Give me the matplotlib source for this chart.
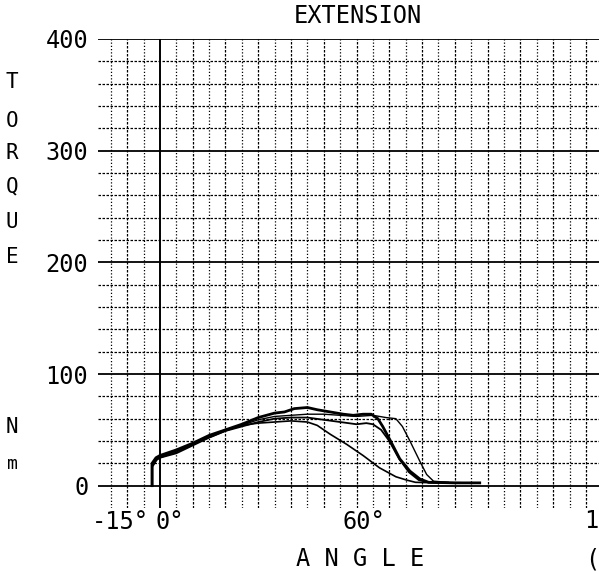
import matplotlib
matplotlib.use('Agg')
import matplotlib.pyplot as plt
import matplotlib.transforms as mtransforms

# torque sweeps (angle in deg, torque in Nm)
ang_a = [-2.5, -2.5, -1.5, 0, 5, 10, 15, 20, 25, 30, 35, 40, 45, 50, 55, 60, 65, 69, 72, 74, 76.3, 79.3, 81.4, 83.5, 88]
trq_a = [0, 18, 23, 25, 30, 37, 43, 49, 54, 59, 62, 63, 64, 64, 63, 62, 63, 61, 60, 53, 40, 22, 10, 4, 3]

ang_b = [-2.4, -2.4, -1.2, 0, 5, 10, 15, 20, 25, 30, 35, 38, 41, 45, 48, 52, 56, 59, 62, 64.5, 66.5, 68, 70.2, 73.2, 76.3, 79.3, 82, 90, 97.6]
trq_b = [0, 20, 25, 27, 32, 38, 45, 50, 55, 61, 65, 66, 69, 70, 68, 66, 64, 63, 64, 64, 60, 53, 41, 24, 13, 6, 3, 2.5, 2.5]

ang_c = [-2.3, -2.3, -1.0, 0, 5, 10, 15, 20, 25, 30, 35, 40, 45, 50, 55, 60, 63, 65, 67.5, 70, 73, 76, 79, 82, 92]
trq_c = [0, 17, 23, 25, 29, 36, 43, 49, 53, 57, 60, 61, 61, 59, 57, 55, 56, 55, 50, 40, 24, 12, 5, 3, 2.5]

ang_d = [-2.5, -2.5, -1.3, 0, 5, 10, 15, 20, 25, 30, 35, 40, 45, 48, 52, 57, 62, 67, 72, 75.3, 78, 85]
trq_d = [0, 19, 24, 26, 31, 37, 44, 50, 54, 56, 57, 58, 57, 54, 46, 37, 27, 16, 8, 5, 3, 2.5]

y_major = [0, 100, 200, 300, 400]
y_minor = [20, 40, 60, 80, 120, 140, 160, 180, 220, 240, 260, 280, 320, 340, 360, 380]
x_grid = list(range(-15, 135, 5))
x_labels = ['-15°', '0°', '60°']
x_label_pos = [-12.2, 3.0, 62.3]

plt.rcParams['font.family'] = ['DejaVu Sans Mono']
fs = 17

fig = plt.figure(figsize=(5.99, 5.74), dpi=100)
ax = fig.add_axes([98 / 599, 66 / 574, 501 / 599, 469 / 574])
ax.set_xlim(-18.9, 134.0)
ax.set_ylim(-20, 400)
for s in ax.spines.values():
    s.set_visible(False)

# grid like the dot matrix printout
for x in x_grid:
    if x == 0:
        ax.axvline(x, color='black', lw=1.4, zorder=1)
    elif x % 10 == 0:
        ax.axvline(x, color='black', lw=0.9, linestyle=(0, (2, 1.2)), zorder=1)
    else:
        ax.axvline(x, color='black', lw=0.9, linestyle=(0, (1, 1.6)), zorder=1)
for y in y_minor:
    ax.axhline(y, color='black', lw=0.9, linestyle=(0, (2, 1.2)), zorder=1)
for y in y_major:
    ax.axhline(y, color='black', lw=1.3, zorder=1)

ax.plot(ang_d, trq_d, color='black', lw=1.2, zorder=3)
ax.plot(ang_c, trq_c, color='black', lw=1.3, zorder=3)
ax.plot(ang_a, trq_a, color='black', lw=1.0, zorder=3)
ax.plot(ang_b, trq_b, color='black', lw=2.0, zorder=3)

ax.set_xticks([])
ax.set_yticks(y_major)
ax.set_yticklabels([str(v) for v in y_major], fontsize=fs)
ax.tick_params(axis='y', length=0, pad=7)

trans = mtransforms.blended_transform_factory(ax.transData, fig.transFigure)
for lab, pos in zip(x_labels, x_label_pos):
    ax.text(pos, 1 - 522 / 574, lab, transform=trans, ha='center', va='center', fontsize=fs)

fig.text(584 / 599, 1 - 521 / 574, '1', ha='left', va='center', fontsize=fs)
fig.text(585 / 599, 1 - 559 / 574, '(', ha='left', va='center', fontsize=fs)
fig.text(360 / 599, 1 - 559 / 574, 'A N G L E', ha='center', va='center', fontsize=fs)
fig.text(358 / 599, 1 - 16 / 574, 'EXTENSION', ha='center', va='center', fontsize=fs)

# y axis title, one letter per row
for ch, yp in zip('TORQUE', [82, 121, 153, 186, 222, 257]):
    fig.text(12 / 599, 1 - yp / 574, ch, ha='center', va='center', fontsize=fs - 2)
fig.text(12 / 599, 1 - 427 / 574, 'N', ha='center', va='center', fontsize=fs - 2)
fig.text(12 / 599, 1 - 464 / 574, 'm', ha='center', va='center', fontsize=fs - 4)

plt.savefig('out.png', dpi=100)
plt.close()
